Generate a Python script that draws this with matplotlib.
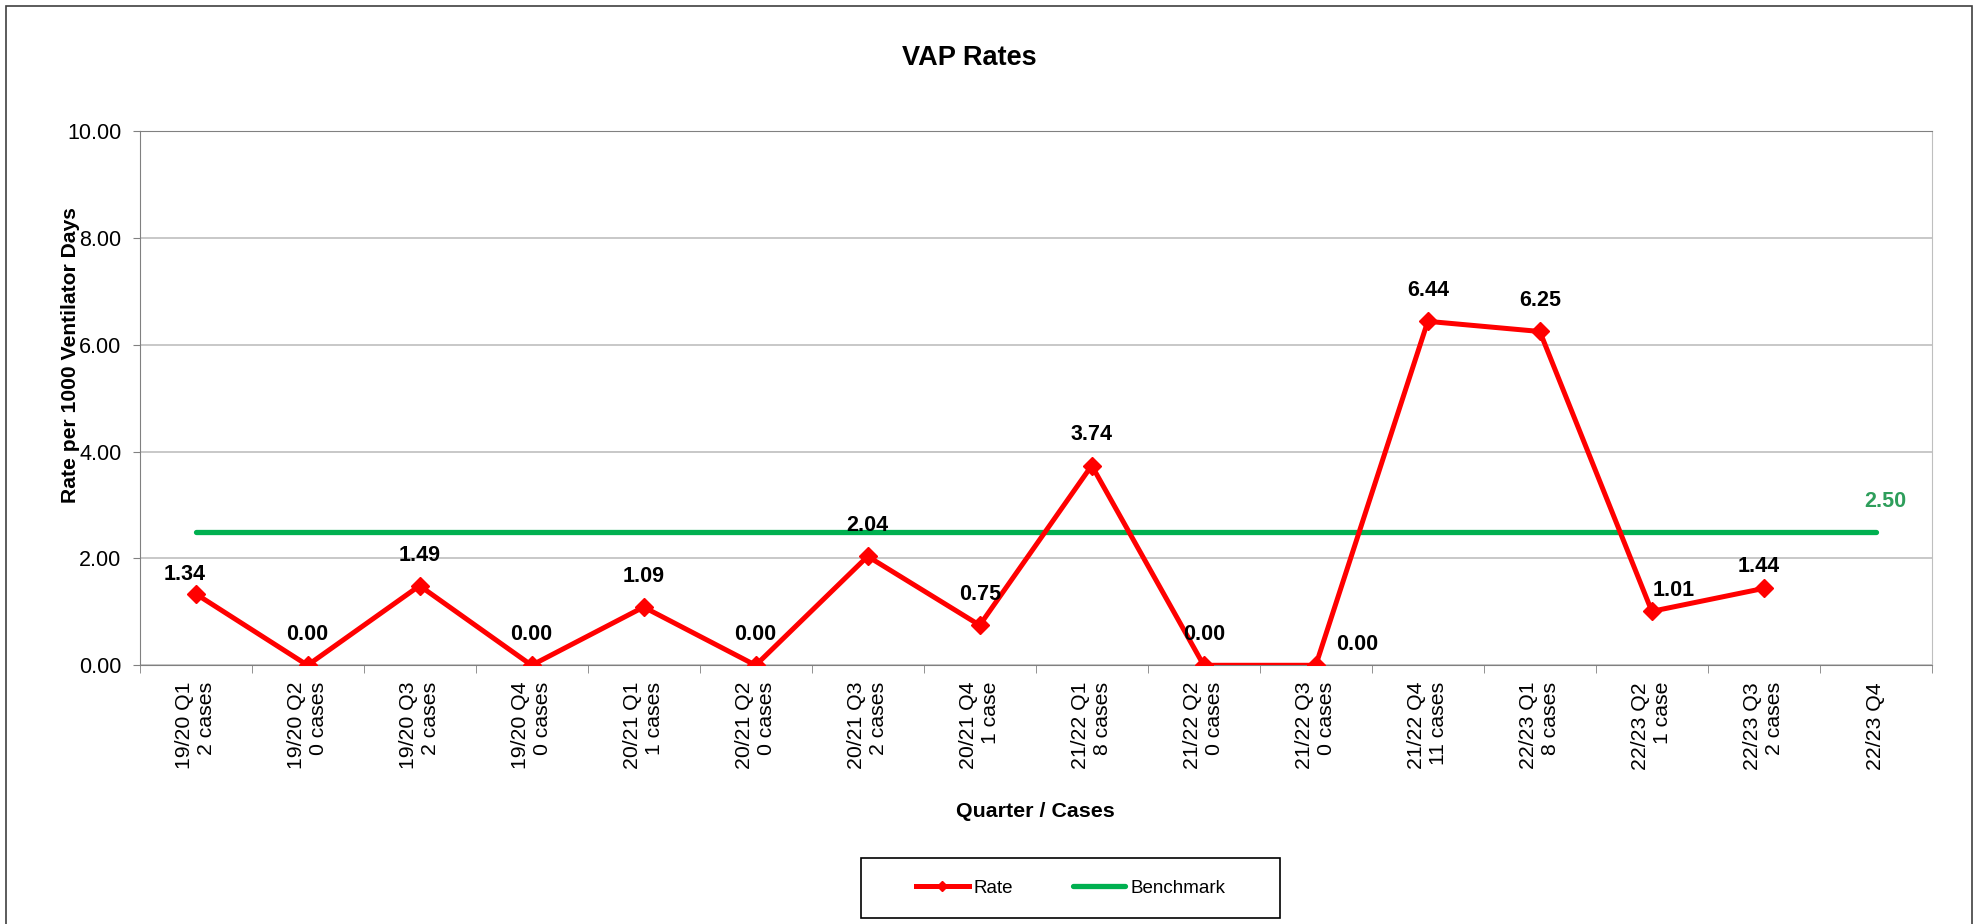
import matplotlib.pyplot as plt
import matplotlib.patches as patches
import numpy as np

plt.rcParams['font.family'] = ['Liberation Sans', 'DejaVu Sans']

# Data
quarters = ['19/20 Q1', '19/20 Q2', '19/20 Q3', '19/20 Q4',
            '20/21 Q1', '20/21 Q2', '20/21 Q3', '20/21 Q4',
            '21/22 Q1', '21/22 Q2', '21/22 Q3', '21/22 Q4',
            '22/23 Q1', '22/23 Q2', '22/23 Q3', '22/23 Q4']
cases = ['2 cases', '0 cases', '2 cases', '0 cases',
         '1 cases', '0 cases', '2 cases', '1 case',
         '8 cases', '0 cases', '0 cases', '11 cases',
         '8 cases', '1 case', '2 cases', '']
rate = [1.34, 0.00, 1.49, 0.00, 1.09, 0.00, 2.04, 0.75,
        3.74, 0.00, 0.00, 6.44, 6.25, 1.01, 1.44, np.nan]
benchmark = [2.50] * 16

tick_labels = [q + ('\n' + c if c else '') for q, c in zip(quarters, cases)]

# label offsets (points) for the few labels that are not straight above
label_offsets = {0: (-8, 14), 10: (30, 15), 13: (16, 15), 14: (-4, 16)}

fig = plt.figure(figsize=(19.79, 9.24), dpi=100)
ax = fig.add_axes([0.0705, 0.280, 0.9057, 0.578])

x = np.arange(len(quarters))

ax.plot(x, benchmark, color='#00B050', lw=3.8, solid_capstyle='round', label='Benchmark', zorder=2)
ax.plot(x, rate, color='#FF0000', lw=3.6, marker='D', markersize=9, label='Rate', zorder=3)

for i, v in enumerate(rate):
    if np.isnan(v):
        continue
    dx, dy = label_offsets.get(i, (0, 22))
    ax.annotate(f'{v:.2f}', xy=(i, v), xytext=(dx, dy), textcoords='offset points',
                ha='center', va='center', fontsize=15.5, fontweight='bold', color='black')

ax.annotate(f'{benchmark[-1]:.2f}', xy=(x[-1], benchmark[-1]), xytext=(7, 22),
            textcoords='offset points', ha='center', va='center',
            fontsize=15.5, fontweight='bold', color='#2E9E5B')

ax.set_xlim(-0.5, len(quarters) - 0.5)
ax.set_ylim(0, 10)
ax.set_yticks([0, 2, 4, 6, 8, 10])
ax.set_yticklabels([f'{t:.2f}' for t in [0, 2, 4, 6, 8, 10]], fontsize=15.5)
ax.yaxis.grid(True, color='#BFBFBF', lw=1.2)
ax.set_axisbelow(True)

ax.set_xticks(x)
ax.set_xticklabels(tick_labels, rotation=90, fontsize=15.3, va='top', ha='center', multialignment='right')
ax.set_xticks(np.arange(-0.5, len(quarters)), minor=True)
ax.tick_params(axis='x', which='major', length=0, pad=12)
ax.tick_params(axis='x', which='minor', length=6, color='#808080')
ax.tick_params(axis='y', length=5, color='#808080', pad=8)

for side in ['left', 'bottom', 'top']:
    ax.spines[side].set_color('#808080')
ax.spines['right'].set_color('#BFBFBF')

ax.set_ylabel('Rate per 1000 Ventilator Days', fontsize=15.2, fontweight='bold', va='center')
ax.yaxis.set_label_coords(-0.0385, 0.58)
ax.set_xlabel('Quarter / Cases', fontsize=15.4, fontweight='bold', va='center')
ax.xaxis.set_label_coords(0.5, -0.273)

fig.text(0.49, 0.937, 'VAP Rates', fontsize=19.5, fontweight='bold', ha='center', va='center')

# legend box drawn separately so its size matches the reference
fig.patches.append(patches.Rectangle((861 / 1979, 1 - 918 / 924), 419 / 1979, 60 / 924,
                                     transform=fig.transFigure, fill=False,
                                     edgecolor='black', lw=1.2))
handles, labels = ax.get_legend_handles_labels()
fig.legend(handles[::-1], labels[::-1], loc='center', ncol=2, fontsize=13.5,
           bbox_to_anchor=(0.541, 0.039), bbox_transform=fig.transFigure,
           frameon=False, handlelength=2.8, handletextpad=0.25,
           columnspacing=3.2, markerscale=0.6)

# outer chart frame
fig.patches.append(patches.Rectangle((6 / 1979, -0.1), 1966 / 1979, 1.1 - 6 / 924,
                                     transform=fig.transFigure, fill=False,
                                     edgecolor='#404040', lw=1.2))

fig.savefig('out.png', dpi=100)
